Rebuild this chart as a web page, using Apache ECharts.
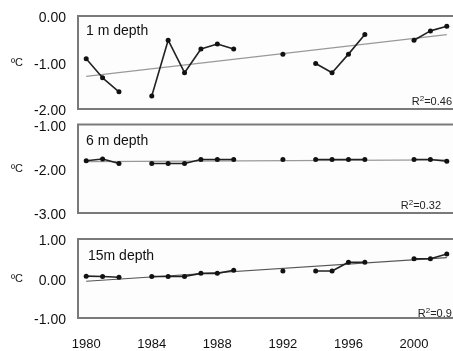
<!DOCTYPE html>
<html>
<head>
<meta charset="utf-8">
<script src="https://cdn.jsdelivr.net/npm/echarts@6/dist/echarts.min.js"></script>
<style>
html,body{margin:0;padding:0;background:#fff;overflow:hidden;}
#chart{width:460px;height:351px;}
</style>
</head>
<body>
<div id="chart"></div>
<script>
// ---- data ----
const years = [1980,1981,1982,1983,1984,1985,1986,1987,1988,1989,1990,1991,1992,1993,1994,1995,1996,1997,1998,1999,2000,2001,2002];
const depth1 = [-0.92,-1.33,-1.63,null,-1.72,-0.52,-1.22,-0.71,-0.60,-0.71,null,null,-0.82,null,-1.02,-1.22,-0.82,-0.40,null,null,-0.52,-0.32,-0.22];
const depth6 = [-1.82,-1.78,-1.88,null,-1.88,-1.88,-1.88,-1.79,-1.79,-1.79,null,null,-1.79,null,-1.79,-1.79,-1.79,-1.79,null,null,-1.79,-1.79,-1.83];
const depth15 = [0.06,0.05,0.03,null,0.05,0.05,0.05,0.13,0.13,0.21,null,null,0.19,null,0.19,0.19,0.41,0.41,null,null,0.50,0.50,0.62];
const trendYears = [1980, 2002];
const trend1 = [-1.30, -0.40];
const trend6 = [-1.84, -1.80];
const trend15 = [-0.07, 0.53];
const panelTitles = ['1 m depth', '6 m depth', '15m depth'];
const r2Values = ['0.46', '0.32', '0.91'];
const yRanges = [[-2, 0], [-3, -1], [-1, 1]];
const xTickLabels = [1980, 1984, 1988, 1992, 1996, 2000];

const FONT = 'Liberation Sans, Arial, sans-serif';
const chart = echarts.init(document.getElementById('chart'));

const grids = [
  {left: 78, right: 5, top: 16, height: 93},
  {left: 78, right: 5, top: 124.5, height: 88.5},
  {left: 78, right: 5, top: 239, height: 84}
].map(g => Object.assign(g, {show: true, borderColor: '#7a7a7a', borderWidth: 2, backgroundColor: '#fdfdfd'}));

const xAxes = [0,1,2].map(i => ({
  type: 'value', gridIndex: i, min: 1979.5, max: 2002.5,
  axisLine: {show: false}, axisTick: {show: false}, splitLine: {show: false},
  axisLabel: i === 2 ? {
    show: true, customValues: xTickLabels, formatter: v => String(v),
    color: '#111', fontSize: 13, fontFamily: FONT, margin: 20
  } : {show: false}
}));

const yAxes = [0,1,2].map(i => ({
  type: 'value', gridIndex: i, min: yRanges[i][0], max: yRanges[i][1], interval: 1,
  axisLine: {show: false}, axisTick: {show: false}, splitLine: {show: false},
  axisLabel: {color: '#111', fontSize: 14, fontFamily: FONT, margin: 12,
    formatter: v => '{a|' + v.toFixed(2) + '}',
    rich: {a: {fontSize: 14, fontFamily: FONT, color: '#111', padding: [5, 0, 0, 0]}}},
  name: '\u00BAC', nameLocation: 'middle', nameRotate: 0, nameGap: 55,
  nameTextStyle: {color: '#111', fontSize: 11, fontFamily: FONT}
}));

const dataSets = [depth1, depth6, depth15];
const trends = [trend1, trend6, trend15];
const series = [];
[0,1,2].forEach(i => {
  series.push({
    type: 'line', xAxisIndex: i, yAxisIndex: i, silent: true,
    data: trendYears.map((y, k) => [y, trends[i][k]]),
    showSymbol: false, lineStyle: {color: i === 2 ? '#555' : '#999', width: 1.2},
    z: 2, animation: false
  });
  series.push({
    type: 'line', xAxisIndex: i, yAxisIndex: i, silent: true,
    data: years.map((y, k) => [y, dataSets[i][k]]),
    connectNulls: false, showSymbol: true, showAllSymbol: true,
    symbol: 'circle', symbolSize: 5,
    itemStyle: {color: '#111'}, lineStyle: {color: '#222', width: 1.6},
    z: 3, animation: false
  });
});

const titleTops = [24, 134, 249];
const r2Pos = [{x: 452, y: 101}, {x: 441, y: 205}, {x: 458, y: 313}];
const graphics = [];
[0,1,2].forEach(i => {
  graphics.push({type: 'text', left: i === 2 ? 88 : 86, top: titleTops[i],
    style: {text: panelTitles[i], fill: '#111', font: '14px ' + FONT}});
  graphics.push({type: 'text', x: r2Pos[i].x, y: r2Pos[i].y,
    style: {text: '{r|R}{s|2}{r|=' + r2Values[i] + '}', align: 'right', verticalAlign: 'middle',
      rich: {
        r: {fill: '#222', fontSize: 11, fontFamily: FONT, verticalAlign: 'bottom'},
        s: {fill: '#222', fontSize: 8, fontFamily: FONT, verticalAlign: 'bottom', padding: [0, 0, 4, 0]}
      }}});
});

chart.setOption({
  backgroundColor: '#fff',
  animation: false,
  grid: grids,
  xAxis: xAxes,
  yAxis: yAxes,
  series: series,
  graphic: graphics
});
</script>
</body>
</html>
